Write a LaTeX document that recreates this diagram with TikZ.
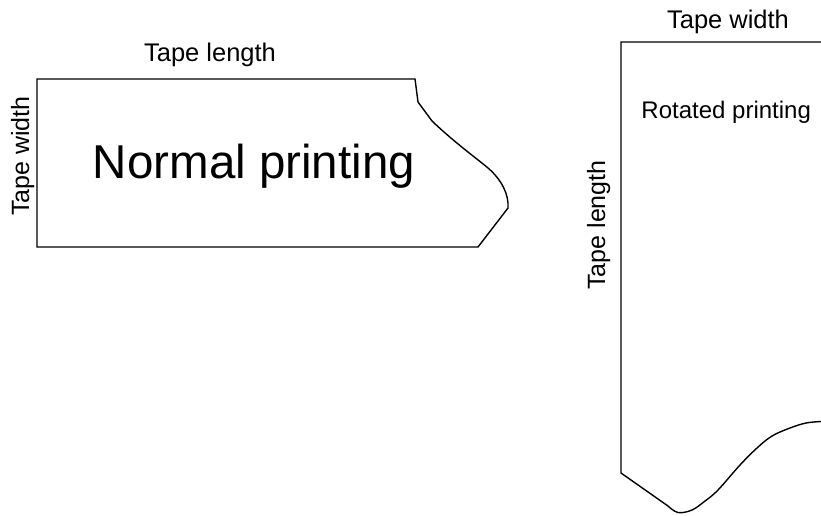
\documentclass[tikz,border=0pt]{standalone}
\usepackage{fontspec}
\setmainfont{Liberation Sans}
\begin{document}
\begin{tikzpicture}[x=1pt,y=-1pt,
  tape/.style={line width=1.4pt,line join=miter},
  lbl/.style={anchor=base,inner sep=0pt,font=\fontsize{25.5}{31}\selectfont},
  side/.style={anchor=base,inner sep=0pt,rotate=90,font=\fontsize{25}{30}\selectfont},
  big/.style={anchor=base,inner sep=0pt,font=\fontsize{47.5}{56}\selectfont},
  mid/.style={anchor=base,inner sep=0pt,font=\fontsize{24}{29}\selectfont}]
\useasboundingbox (0,0) rectangle (821,515);

% tape printed along its length
\draw[tape] (415,79) -- (37,79) -- (37,247) -- (478,247) -- (508,208)
  .. controls (509,195) and (502,180) .. (488,168)
  .. controls (480,161) and (455,143) .. (432,121)
  -- (418,102) -- cycle;

% tape printed across its width
\draw[tape] (821,42) -- (621,42) -- (621,473) -- (668,506)
  plot[smooth,tension=0.6] coordinates {(668,506) (678,512.5) (692,510) (705,501) (718,490) (740,465) (757,448) (772,436) (790,428) (806,423) (821,421.5)};

% labels
\node[lbl] (lenA) at (210,61.5) {Tape length};
\node[big] (normal) at (254,178) {Normal printing};
\node[side] (widA) at (29,156) {Tape width};
\node[lbl] (widB) at (728,28.3) {Tape width};
\node[mid] (rot) at (726.2,118.3) {Rotated printing};
\node[side] (lenB) at (605,225) {Tape length};
\end{tikzpicture}
\end{document}
